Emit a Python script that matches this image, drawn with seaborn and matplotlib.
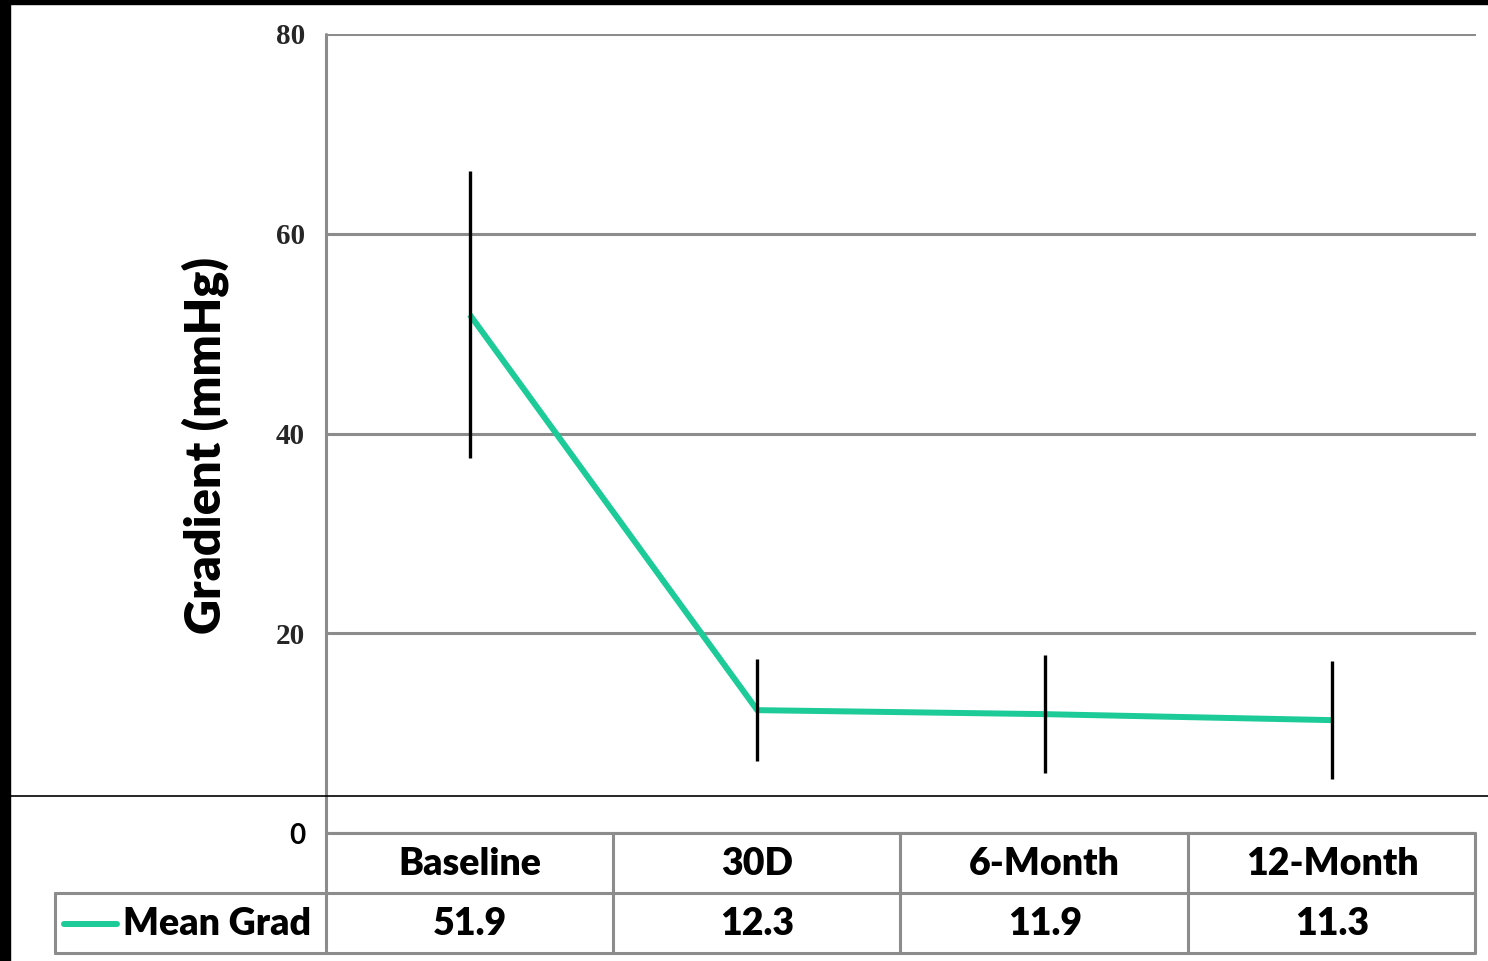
import numpy as np
import pandas as pd
import matplotlib
matplotlib.use("Agg")
import matplotlib.pyplot as plt
from matplotlib.lines import Line2D
from matplotlib.patches import Rectangle
import seaborn as sns

# Follow-up visits and mean transvalvular gradient (mmHg)
visits = ["Baseline", "30D", "6-Month", "12-Month"]
mean_grad = [51.9, 12.3, 11.9, 11.3]
sd_grad = [14.4, 5.1, 5.9, 5.9]
y_ticks = [0, 20, 40, 60, 80]
series_name = "Mean Grad"
y_title = "Gradient (mmHg)"

sns.set_theme(style="white")
plt.rcParams["font.family"] = ["Lato", "DejaVu Sans"]

W, H = 1488, 961
fig = plt.figure(figsize=(W / 100, H / 100), dpi=100)
fig.patch.set_facecolor("white")


def fx(px):
    return px / W


def fy(py):
    return 1 - py / H


ax = fig.add_axes([fx(326), fy(833), (1476 - 326) / W, (833 - 34) / H])
ax.set_facecolor("white")

df = pd.DataFrame({"pos": np.arange(len(visits)), "grad": mean_grad})
line_color = "#1ccb98"
grid_color = "#8c8c8c"

sns.lineplot(data=df, x="pos", y="grad", ax=ax, color=line_color, lw=4.3,
             solid_capstyle="butt", zorder=2)
ax.errorbar(df["pos"], df["grad"], yerr=sd_grad, fmt="none", ecolor="black",
            elinewidth=2.4, capsize=0, zorder=3)

ax.set_xlim(-0.5, len(visits) - 0.5)
ax.set_ylim(0, 80)
ax.set_xticks([])
ax.set_yticks(y_ticks)
ax.set_yticklabels([str(t) for t in y_ticks])
ax.tick_params(axis="y", length=0, pad=15)
for lab in ax.get_yticklabels():
    lab.set_fontfamily(["Liberation Serif", "DejaVu Serif"])
    lab.set_fontweight("bold")
    lab.set_fontsize(21)
zero_lab = ax.get_yticklabels()[0]
zero_lab.set_fontfamily(["Lato", "DejaVu Sans"])
zero_lab.set_fontweight("bold")
zero_lab.set_fontsize(20)
zero_lab.set_color("black")
ax.yaxis.grid(True, color=grid_color, lw=2.2)
ax.xaxis.grid(False)
ax.set_xlabel("")
ax.set_ylabel("")
for s in ax.spines.values():
    s.set_visible(False)

# axis title
fig.text(fx(205), fy(446), y_title, rotation=90, ha="center", va="center",
         fontsize=35, fontweight="heavy", color="black")

# left spine running down through the data table
fig.add_artist(Line2D([fx(326), fx(326)], [fy(34), fy(953)], color=grid_color,
                      lw=2.2, transform=fig.transFigure))

# data table
col_edges = [326, 613, 900, 1188, 1475]
row_top, row_mid, row_bot = 833, 893, 953
tbl_kw = dict(color=grid_color, lw=2.2, transform=fig.transFigure)
fig.add_artist(Line2D([fx(326), fx(1475)], [fy(row_top)] * 2, **tbl_kw))
fig.add_artist(Line2D([fx(55), fx(1475)], [fy(row_mid)] * 2, **tbl_kw))
fig.add_artist(Line2D([fx(55), fx(1475)], [fy(row_bot)] * 2, **tbl_kw))
fig.add_artist(Line2D([fx(55), fx(55)], [fy(row_mid), fy(row_bot)], **tbl_kw))
for xe in col_edges[1:]:
    fig.add_artist(Line2D([fx(xe), fx(xe)], [fy(row_top), fy(row_bot)], **tbl_kw))

trans = matplotlib.transforms.blended_transform_factory(ax.transData, fig.transFigure)
for i, (v, m) in enumerate(zip(visits, mean_grad)):
    fig.text(i, fy(864), v, transform=trans, ha="center", va="center",
             fontsize=27, fontweight="heavy", color="black")
    fig.text(i, fy(924), f"{m:.1f}", transform=trans, ha="center", va="center",
             fontsize=27, fontweight="heavy", color="black")

fig.add_artist(Line2D([fx(64), fx(117)], [fy(924)] * 2, color=line_color, lw=4.3,
                      solid_capstyle="round", transform=fig.transFigure))
fig.text(fx(123), fy(924), series_name, ha="left", va="center",
         fontsize=27, fontweight="heavy", color="black")

# thin rule across the page and dark frame strips
fig.add_artist(Line2D([fx(10), fx(W)], [fy(796)] * 2, color="black", lw=1.2,
                      transform=fig.transFigure))
fig.add_artist(Rectangle((0, 0), fx(10), 1, color="black",
                         transform=fig.transFigure, zorder=10))
fig.add_artist(Rectangle((0, fy(3.5)), 1, 3.5 / H, color="black",
                         transform=fig.transFigure, zorder=10))

fig.savefig("out.png", dpi=100, facecolor="white")
